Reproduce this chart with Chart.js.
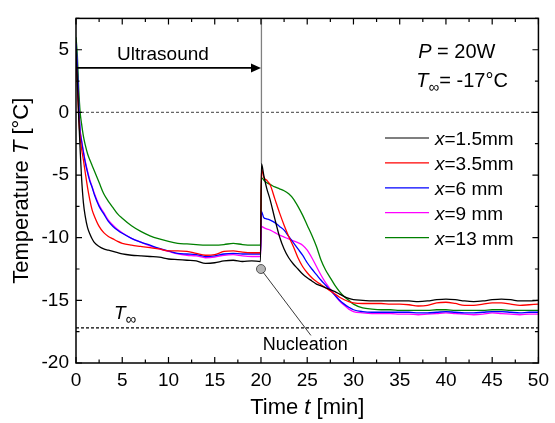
<!DOCTYPE html>
<html>
<head>
<meta charset="utf-8">
<script src="https://cdn.jsdelivr.net/npm/chart.js@4.4.0/dist/chart.umd.min.js"></script>
<style>
    html, body { margin: 0; padding: 0; background: #fff; }
</style>
</head>
<body>
<canvas id="tempChart" width="555" height="423"></canvas>
<script>
// time [min]
var timeMin = [0, 0.15, 0.3, 0.45, 0.6, 0.8, 1, 1.25, 1.5, 1.75, 2, 2.5, 3, 3.5, 4, 4.5, 5,
    6, 7, 8, 9, 10, 11, 12, 13, 14, 15, 16, 17, 18, 19,
    19.95,
    20.05, 20.3, 20.6,
    21, 21.5, 22, 22.5, 23, 23.5, 24, 24.5, 25, 25.5, 26, 26.5, 27, 27.5, 28, 28.5, 29, 29.5, 30,
    31, 32, 33, 34, 35, 36, 37, 38, 39, 40, 41, 42, 43, 44, 45, 46, 47, 48, 49, 50];

// temperature [°C] per probe position
var tX15 = [5.0, 2.5, -0.5, -3.0, -5.2, -7.2, -8.3, -9.2, -9.7, -10.1, -10.4, -10.7, -10.9, -11.0, -11.1, -11.2, -11.3,
    -11.4, -11.45, -11.5, -11.55, -11.7, -11.75, -11.8, -11.85, -12.05, -12.0, -11.85, -11.8, -11.9, -11.85,
    -11.9,
    -4.1, -5.0, -6.0,
    -7.0, -8.5, -9.9, -10.9, -11.6, -12.1, -12.5, -12.9, -13.2, -13.45, -13.7, -13.85, -14.0, -14.15, -14.3, -14.5, -14.7, -14.85, -14.95,
    -15.0, -15.05, -15.05, -15.05, -15.05, -15.05, -15.1, -15.05, -14.95, -14.9, -14.95, -15.05, -15.1, -15.05, -14.95, -14.9, -14.95, -15.05, -15.05, -15.0];
var tX35 = [4.5, 2.0, -0.5, -2.0, -2.9, -3.8, -4.8, -6.0, -7.0, -7.8, -8.3, -9.1, -9.6, -9.9, -10.1, -10.3, -10.45,
    -10.6, -10.7, -10.8, -10.9, -11.05, -11.05, -11.1, -11.25, -11.4, -11.35, -11.1, -11.05, -11.15, -11.2,
    -11.2,
    -4.5, -5.2, -5.4,
    -5.8, -6.9, -8.0, -9.0, -9.9, -10.7, -11.6, -12.3, -12.8, -13.2, -13.5, -13.75, -14.0, -14.25, -14.5, -14.75, -14.95, -15.1, -15.2,
    -15.25, -15.25, -15.25, -15.3, -15.3, -15.35, -15.45, -15.4, -15.2, -15.15, -15.25, -15.4, -15.4, -15.3, -15.2, -15.2, -15.3, -15.4, -15.35, -15.3];
var tX6 = [5.5, 3.5, 0.5, -1.5, -2.3, -3.2, -4.0, -4.8, -5.5, -6.0, -6.6, -7.5, -8.1, -8.7, -9.1, -9.4, -9.65,
    -10.05, -10.35, -10.6, -10.85, -11.05, -11.25, -11.3, -11.35, -11.5, -11.45, -11.3, -11.25, -11.3, -11.3,
    -11.3,
    -7.9, -8.4, -8.5,
    -8.6, -8.8, -9.1, -9.4, -9.9, -10.4, -10.9, -11.4, -12.0, -12.5, -12.95, -13.4, -13.8, -14.2, -14.6, -15.0, -15.3, -15.55, -15.75,
    -15.9, -15.95, -15.95, -15.95, -15.95, -15.95, -16.0, -16.0, -15.95, -15.9, -15.95, -16.0, -16.0, -15.95, -15.9, -15.9, -15.95, -16.0, -15.95, -15.95];
var tX9 = [5.5, 3.0, 0.3, -1.4, -2.2, -3.1, -3.9, -4.7, -5.4, -5.95, -6.5, -7.4, -8.0, -8.6, -9.0, -9.35, -9.6,
    -10.05, -10.35, -10.65, -10.9, -11.1, -11.3, -11.4, -11.45, -11.6, -11.55, -11.4, -11.35, -11.45, -11.5,
    -11.5,
    -9.1, -9.2, -9.3,
    -9.4, -9.6, -9.8, -9.95, -10.1, -10.25, -10.4, -10.6, -11.0, -11.6, -12.3, -13.0, -13.6, -14.1, -14.6, -15.05, -15.4, -15.7, -15.9,
    -16.0, -16.05, -16.05, -16.05, -16.1, -16.1, -16.15, -16.1, -16.05, -16.0, -16.05, -16.1, -16.15, -16.1, -16.0, -16.05, -16.1, -16.15, -16.1, -16.1];
var tX13 = [6.0, 4.5, 1.8, 0.0, -0.9, -1.9, -2.6, -3.3, -3.8, -4.25, -4.7, -5.6, -6.5, -7.1, -7.6, -8.1, -8.45,
    -9.05, -9.5, -9.85, -10.1, -10.3, -10.45, -10.5, -10.55, -10.6, -10.6, -10.55, -10.45, -10.55, -10.6,
    -10.6,
    -5.2, -5.4, -5.6,
    -5.75, -5.95, -6.1, -6.25, -6.5, -6.9, -7.5, -8.2, -9.0, -9.8, -10.7, -11.8, -12.6, -13.2, -13.8, -14.3, -14.7, -15.0, -15.3,
    -15.6, -15.7, -15.75, -15.75, -15.8, -15.8, -15.8, -15.8, -15.75, -15.75, -15.8, -15.8, -15.8, -15.8, -15.75, -15.75, -15.8, -15.8, -15.8, -15.8];

var seriesLabels = ['1.5mm', '3.5mm', '6 mm', '9 mm', '13 mm'];
var seriesColors = ['#000000', '#ff0000', '#0000ff', '#ff00ff', '#008000'];

var spikeTime = 20.05;
var spikeT = [-4.1, 7.5];
var nucleationPoint = { x: 20, y: -12.5 };
var ultrasoundSpan = [0, 20];
var ultrasoundT = 3.55;
var zeroLineT = 0;
var tInfinity = -17.2;

var xTicks = [0, 5, 10, 15, 20, 25, 30, 35, 40, 45, 50];
var yTicks = [-20, -15, -10, -5, 0, 5];

var FONT = '"Liberation Sans", Arial, sans-serif';

function toPoints(values) {
    return timeMin.map(function (t, i) { return { x: t, y: values[i] }; });
}

function fontOf(italic, size) {
    return (italic ? 'italic ' : '') + size + 'px ' + FONT;
}

// parts: [text, italic, size, dy]
function richText(ctx, x, y, parts, align) {
    var total = 0;
    parts.forEach(function (p) {
        ctx.font = fontOf(p[1], p[2]);
        total += ctx.measureText(p[0]).width;
    });
    var cx = align === 'center' ? x - total / 2 : (align === 'right' ? x - total : x);
    parts.forEach(function (p) {
        ctx.font = fontOf(p[1], p[2]);
        ctx.fillText(p[0], cx, y + (p[3] || 0));
        cx += ctx.measureText(p[0]).width;
    });
}

var decorPlugin = {
    id: 'decor',
    afterDatasetsDraw: function (chart) {
        var ctx = chart.ctx;
        var a = chart.chartArea;
        var xs = chart.scales.x, ys = chart.scales.y;
        ctx.save();
        ctx.fillStyle = '#000';
        ctx.strokeStyle = '#000';
        ctx.textAlign = 'left';
        ctx.textBaseline = 'alphabetic';

        // frame
        ctx.lineWidth = 1.5;
        ctx.strokeRect(a.left, a.top, a.right - a.left, a.bottom - a.top);

        // inward ticks, major + minor
        ctx.lineWidth = 1.2;
        ctx.beginPath();
        for (var v = 0; v <= 50; v += 2.5) {
            var px = xs.getPixelForValue(v);
            var len = (v % 5 === 0) ? 6 : 3.5;
            ctx.moveTo(px, a.bottom); ctx.lineTo(px, a.bottom - len);
            ctx.moveTo(px, a.top); ctx.lineTo(px, a.top + len);
        }
        for (var w = -20; w <= 7.5; w += 2.5) {
            var py = ys.getPixelForValue(w);
            var len2 = (w % 5 === 0) ? 6 : 3.5;
            ctx.moveTo(a.left, py); ctx.lineTo(a.left + len2, py);
            ctx.moveTo(a.right, py); ctx.lineTo(a.right - len2, py);
        }
        ctx.stroke();

        // ultrasound arrow
        var ay = ys.getPixelForValue(ultrasoundT);
        var ax0 = xs.getPixelForValue(ultrasoundSpan[0]);
        var ax1 = xs.getPixelForValue(ultrasoundSpan[1]);
        ctx.lineWidth = 1.8;
        ctx.beginPath();
        ctx.moveTo(ax0, ay); ctx.lineTo(ax1 - 6, ay);
        ctx.stroke();
        ctx.beginPath();
        ctx.moveTo(ax1, ay); ctx.lineTo(ax1 - 10, ay - 4.5); ctx.lineTo(ax1 - 10, ay + 4.5);
        ctx.closePath();
        ctx.fill();
        richText(ctx, xs.getPixelForValue(9.4), ys.getPixelForValue(4.2), [['Ultrasound', false, 19]], 'center');

        // conditions
        richText(ctx, xs.getPixelForValue(37.0), ys.getPixelForValue(4.35),
            [['P', true, 20], [' = 20W', false, 20]], 'left');
        richText(ctx, xs.getPixelForValue(36.8), ys.getPixelForValue(2.05),
            [['T', true, 20], ['\u221e', false, 15, 5], ['= -17\u00b0C', false, 20]], 'left');

        // T infinity label
        richText(ctx, xs.getPixelForValue(4.1), ys.getPixelForValue(-16.5),
            [['T', true, 19], ['\u221e', false, 15, 5]], 'left');

        // nucleation leader
        var nx = xs.getPixelForValue(nucleationPoint.x), ny = ys.getPixelForValue(nucleationPoint.y);
        ctx.lineWidth = 0.9;
        ctx.strokeStyle = '#222';
        ctx.beginPath();
        ctx.moveTo(nx + 2, ny + 3);
        ctx.lineTo(xs.getPixelForValue(25.4), ys.getPixelForValue(-17.8));
        ctx.stroke();
        richText(ctx, xs.getPixelForValue(20.2), ys.getPixelForValue(-19.0), [['Nucleation', false, 18]], 'left');

        // legend
        var lx0 = 385, lx1 = 429, tx = 435, ly = 138;
        seriesLabels.forEach(function (lab, i) {
            var yy = ly + i * 24.9;
            ctx.strokeStyle = seriesColors[i];
            ctx.lineWidth = 1.2;
            ctx.beginPath();
            ctx.moveTo(lx0, yy); ctx.lineTo(lx1, yy);
            ctx.stroke();
            richText(ctx, tx, yy + 7, [['x', true, 19], ['=' + lab, false, 19]], 'left');
        });

        // axis titles
        richText(ctx, (a.left + a.right) / 2, 414,
            [['Time ', false, 22], ['t', true, 22], [' [min]', false, 22]], 'center');
        ctx.save();
        ctx.translate(28, (a.top + a.bottom) / 2);
        ctx.rotate(-Math.PI / 2);
        richText(ctx, 0, 0, [['Temperature ', false, 22], ['T', true, 22], [' [\u00b0C]', false, 22]], 'center');
        ctx.restore();

        ctx.restore();
    }
};

var seriesData = [tX15, tX35, tX6, tX9, tX13];
var datasets = [{
    data: [nucleationPoint],
    showLine: false,
    pointRadius: 4.5,
    pointBackgroundColor: '#b4b4b4',
    pointBorderColor: '#555',
    pointBorderWidth: 1
}];
seriesData.forEach(function (vals, i) {
    datasets.push({
        data: toPoints(vals),
        showLine: true,
        borderColor: seriesColors[i],
        borderWidth: 1.3,
        pointRadius: 0,
        cubicInterpolationMode: 'monotone'
    });
});
datasets.push({
    data: spikeT.map(function (v) { return { x: spikeTime, y: v }; }),
    showLine: true, borderColor: '#808080', borderWidth: 1.3, pointRadius: 0
});
datasets.push({
    data: [{ x: 0, y: zeroLineT }, { x: 50, y: zeroLineT }],
    showLine: true, borderColor: '#666', borderWidth: 1.2, borderDash: [3, 2], pointRadius: 0
});
datasets.push({
    data: [{ x: 0, y: tInfinity }, { x: 50, y: tInfinity }],
    showLine: true, borderColor: '#000', borderWidth: 1.1, borderDash: [3, 2], pointRadius: 0
});

var tickFont = { family: FONT, size: 19 };

new Chart(document.getElementById('tempChart').getContext('2d'), {
    type: 'scatter',
    data: { datasets: datasets },
    options: {
        responsive: false,
        animation: false,
        devicePixelRatio: 1,
        layout: { padding: { top: 12, right: 13, left: 0, bottom: 0 } },
        plugins: { legend: { display: false }, tooltip: { enabled: false } },
        scales: {
            x: {
                type: 'linear', min: 0, max: 50,
                grid: { display: false, drawTicks: false },
                border: { display: false },
                afterBuildTicks: function (s) { s.ticks = xTicks.map(function (v) { return { value: v }; }); },
                ticks: { color: '#000', font: tickFont, padding: 6, maxRotation: 0 },
                afterFit: function (s) { s.height = 60; }
            },
            y: {
                type: 'linear', min: -20, max: 7.5,
                grid: { display: false, drawTicks: false },
                border: { display: false },
                afterBuildTicks: function (s) { s.ticks = yTicks.map(function (v) { return { value: v }; }); },
                ticks: { color: '#000', font: tickFont, padding: 7 },
                afterFit: function (s) { s.width = 76; }
            }
        }
    },
    plugins: [decorPlugin]
});
</script>
</body>
</html>
